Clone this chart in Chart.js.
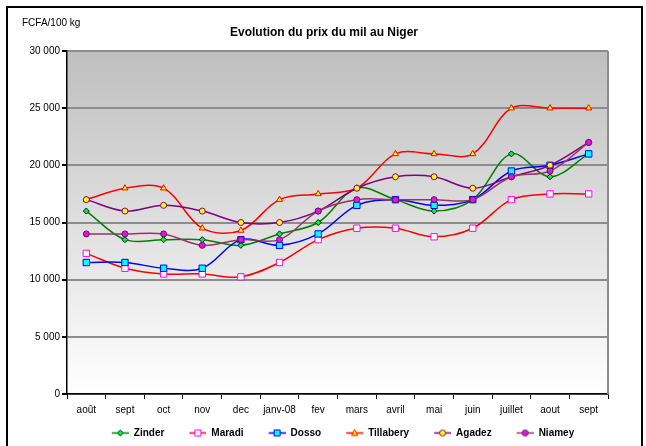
<!DOCTYPE html>
<html>
<head>
<meta charset="utf-8">
<script src="https://cdn.jsdelivr.net/npm/chart.js@4"></script>
<style>
  body { margin: 0; background: #fff; }
  canvas { display: block; }
</style>
</head>
<body>
<canvas id="milChart" width="646" height="446"></canvas>
<script>
// months on the x axis
const months = ['août', 'sept', 'oct', 'nov', 'dec', 'janv-08', 'fev', 'mars', 'avril', 'mai', 'juin', 'juillet', 'aout', 'sept'];

// prix du mil, FCFA/100 kg
const zinder    = [16000, 13500, 13500, 13500, 13000, 14000, 15000, 18000, 17000, 16000, 17000, 21000, 19000, 21000];
const maradi    = [12300, 11000, 10500, 10500, 10250, 11500, 13500, 14500, 14500, 13750, 14500, 17000, 17500, 17500];
const dosso     = [11500, 11500, 11000, 11000, 13500, 13000, 14000, 16500, 17000, 16500, 17000, 19500, 20000, 21000];
const tillabery = [17000, 18000, 18000, 14500, 14300, 17000, 17500, 18000, 21000, 21000, 21000, 25000, 25000, 25000];
const agadez    = [17000, 16000, 16500, 16000, 15000, 15000, 16000, 18000, 19000, 19000, 18000, 19000, 20000, 22000];
const niamey    = [14000, 14000, 14000, 13000, 13500, 13500, 16000, 17000, 17000, 17000, 17000, 19000, 19500, 22000];

const yMax = 30000;
const yStep = 5000;

Chart.defaults.font.family = "'Liberation Sans', Arial, sans-serif";
Chart.defaults.color = '#000';

function series(label, data, line, fill, border, style, radius) {
  return {
    label: label,
    data: data,
    borderColor: line,
    borderWidth: 1.5,
    pointStyle: style,
    pointRadius: radius,
    pointBackgroundColor: fill,
    pointBorderColor: border,
    pointBorderWidth: 1,
    tension: 0.35,
    fill: false
  };
}

const datasets = [
  series('Zinder', zinder, '#008000', '#00ff00', '#000080', 'rectRot', 3),
  series('Maradi', maradi, '#ff0000', '#ffffff', '#ff00ff', 'rect', 4.5),
  series('Dosso', dosso, '#0000ff', '#00ffff', '#0000ff', 'rect', 4.5),
  series('Tillabery', tillabery, '#ff0000', '#ffff00', '#ff0000', 'triangle', 3.5),
  series('Agadez', agadez, '#800080', '#ffff00', '#800080', 'circle', 3),
  series('Niamey', niamey, '#993366', '#ff00ff', '#333333', 'circle', 3)
];
// excel draws the first series at the bottom
datasets.forEach((d, i) => { d.order = datasets.length - i; });

// line + marker icon for the legend, left part left empty as spacing
const ICON_W = 37;
function legendIcon(ds) {
  const c = document.createElement('canvas');
  c.width = ICON_W; c.height = 9;
  const g = c.getContext('2d');
  g.strokeStyle = ds.borderColor;
  g.lineWidth = 1.5;
  g.beginPath(); g.moveTo(20, 4.5); g.lineTo(ICON_W, 4.5); g.stroke();
  g.fillStyle = ds.pointBackgroundColor;
  g.strokeStyle = ds.pointBorderColor;
  g.lineWidth = 1;
  const x = 28.5, y = 4.5, r = 3;
  g.beginPath();
  if (ds.pointStyle === 'circle') {
    g.arc(x, y, r, 0, Math.PI * 2);
  } else if (ds.pointStyle === 'rect') {
    g.rect(x - r, y - r, 2 * r, 2 * r);
  } else if (ds.pointStyle === 'rectRot') {
    g.moveTo(x, y - r); g.lineTo(x + r, y); g.lineTo(x, y + r); g.lineTo(x - r, y); g.closePath();
  } else {
    g.moveTo(x, y - r - 0.5); g.lineTo(x + r, y + r - 0.5); g.lineTo(x - r, y + r - 0.5); g.closePath();
  }
  g.fill(); g.stroke();
  return c;
}

const excelLook = {
  id: 'excelLook',
  afterLayout(chart) {
    const lg = chart.legend;
    if (lg) {
      const dx = 333 - (lg.left + lg.right) / 2;
      lg.left += dx; lg.right += dx;
    }
    const tt = chart.titleBlock;
    if (tt) {
      const dx = 324 - (tt.left + tt.right) / 2;
      tt.left += dx; tt.right += dx;
    }
  },
  beforeDraw(chart) {
    const { ctx, chartArea: a } = chart;
    const grad = ctx.createLinearGradient(0, a.top, 0, a.bottom);
    grad.addColorStop(0, '#bfbfbf');
    grad.addColorStop(1, '#ffffff');
    ctx.save();
    ctx.fillStyle = grad;
    ctx.fillRect(a.left, a.top, a.right - a.left, a.bottom - a.top);
    ctx.restore();
  },
  beforeDatasetsDraw(chart) {
    const { ctx, chartArea: a } = chart;
    ctx.save();
    ctx.strokeStyle = '#8c8c8c';
    ctx.lineWidth = 2;
    ctx.beginPath();
    ctx.moveTo(a.right, a.top);
    ctx.lineTo(a.right, a.bottom);
    ctx.stroke();
    ctx.restore();
  },
  afterDraw(chart) {
    const ctx = chart.ctx;
    ctx.save();
    ctx.strokeStyle = '#000';
    ctx.lineWidth = 2;
    ctx.strokeRect(7, 7, 635, 480);
    ctx.fillStyle = '#000';
    ctx.font = "10px 'Liberation Sans', Arial, sans-serif";
    ctx.textBaseline = 'middle';
    ctx.fillText('FCFA/100 kg', 22, 23);
    ctx.restore();
  }
};

new Chart(document.getElementById('milChart'), {
  type: 'line',
  data: { labels: months, datasets: datasets },
  plugins: [excelLook],
  options: {
    responsive: false,
    animation: false,
    layout: { padding: { top: 0, left: 0, right: 38, bottom: -2 } },
    scales: {
      x: {
        offset: true,
        grid: { offset: true, drawOnChartArea: false, drawTicks: true, tickLength: 5, tickColor: '#000' },
        border: { color: '#000', width: 1.5 },
        ticks: { font: { size: 10 }, color: '#000', padding: 5, maxRotation: 0, autoSkip: false },
        afterFit(scale) { scale.height = 29; }
      },
      y: {
        min: 0,
        max: yMax,
        grid: { color: '#8c8c8c', lineWidth: 2, tickLength: 5, tickColor: '#000' },
        border: { color: '#000', width: 1.5 },
        ticks: {
          stepSize: yStep,
          padding: 2,
          font: { size: 10 },
          color: '#000',
          callback: v => String(v).replace(/\B(?=(\d{3})+(?!\d))/g, ' ')
        },
        afterFit(scale) { scale.width = 67; }
      }
    },
    plugins: {
      title: {
        display: true,
        text: 'Evolution du prix du mil au Niger',
        font: { size: 12, weight: 'bold' },
        color: '#000',
        padding: { top: 25, bottom: 11.6 }
      },
      legend: {
        position: 'bottom',
        labels: {
          usePointStyle: true,
          pointStyleWidth: ICON_W,
          padding: 5,
          font: { size: 10, weight: 'bold' },
          color: '#000',
          generateLabels(chart) {
            return chart.data.datasets.map((ds, i) => ({
              text: ds.label,
              datasetIndex: i,
              hidden: !chart.isDatasetVisible(i),
              pointStyle: legendIcon(ds),
              fillStyle: 'transparent',
              strokeStyle: 'transparent',
              lineWidth: 0,
              fontColor: '#000'
            }));
          }
        }
      },
      tooltip: { enabled: false }
    }
  }
});
</script>
</body>
</html>
